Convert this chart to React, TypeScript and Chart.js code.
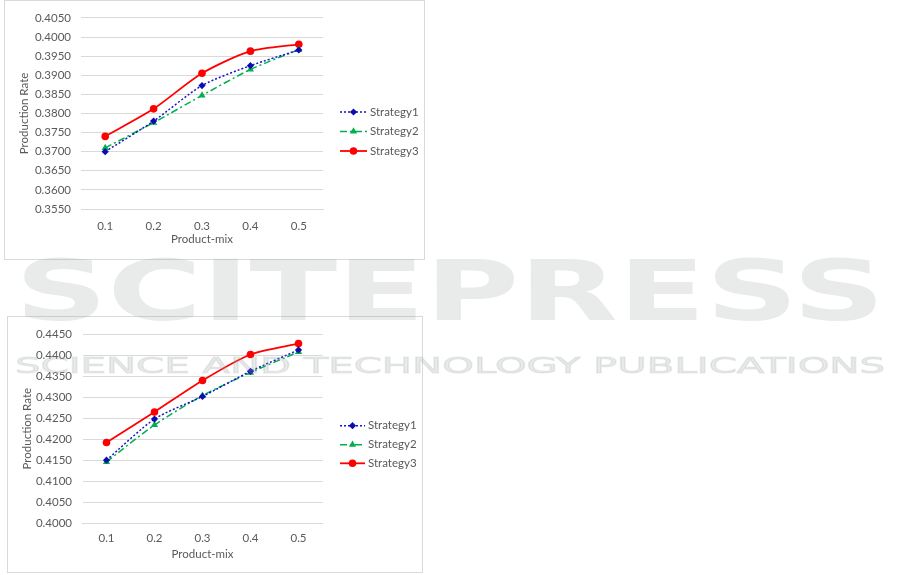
import React, { useEffect, useRef } from 'react';
import { Chart, registerables } from 'chart.js';

Chart.register(...registerables);

// ---------- data ----------
const categories = ['0.1', '0.2', '0.3', '0.4', '0.5'];
const seriesNames = ['Strategy1', 'Strategy2', 'Strategy3'];

const topStrategy1 = [0.3700, 0.3780, 0.3873, 0.3925, 0.3966];
const topStrategy2 = [0.3710, 0.3776, 0.3847, 0.3915, 0.3967];
const topStrategy3 = [0.3740, 0.3812, 0.3905, 0.3963, 0.3981];

const bottomStrategy1 = [0.4150, 0.4248, 0.4302, 0.4362, 0.4413];
const bottomStrategy2 = [0.4146, 0.4234, 0.4304, 0.4359, 0.4408];
const bottomStrategy3 = [0.4192, 0.4265, 0.4340, 0.4402, 0.4428];

const topAxis = { min: 0.355, max: 0.405, step: 0.005 };
const bottomAxis = { min: 0.4, max: 0.445, step: 0.005 };

const xTitle = 'Product-mix';
const yTitle = 'Production Rate';

// ---------- styles ----------
const TEXT = '#595959';
const GRID = '#d9d9d9';
const FONT = 'Lato, "Open Sans", sans-serif';

const seriesStyles = [
  { color: '#1414c8', marker: '#0c0cb0', dash: [2, 2], width: 1.5, pointStyle: 'rectRot', radius: 3.6 },
  { color: '#00b050', marker: '#00b050', dash: [7, 3, 2, 3], width: 1.5, pointStyle: 'triangle', radius: 4.2 },
  { color: '#ff0000', marker: '#ff0000', dash: [], width: 1.8, pointStyle: 'circle', radius: 3.8 },
];

function drawMarker(ctx: CanvasRenderingContext2D, style: string, x: number, y: number, r: number, color: string) {
  ctx.save();
  ctx.fillStyle = color;
  ctx.beginPath();
  if (style === 'circle') {
    ctx.arc(x, y, r, 0, Math.PI * 2);
  } else if (style === 'rectRot') {
    ctx.moveTo(x, y - r);
    ctx.lineTo(x + r, y);
    ctx.lineTo(x, y + r);
    ctx.lineTo(x - r, y);
  } else if (style === 'triangle') {
    let rad = 0;
    ctx.moveTo(x + Math.sin(rad) * r, y - Math.cos(rad) * r);
    rad += (2 * Math.PI) / 3;
    ctx.lineTo(x + Math.sin(rad) * r, y - Math.cos(rad) * r);
    rad += (2 * Math.PI) / 3;
    ctx.lineTo(x + Math.sin(rad) * r, y - Math.cos(rad) * r);
  }
  ctx.closePath();
  ctx.fill();
  ctx.restore();
}

const sideLegend = {
  id: 'sideLegend',
  afterDraw(chart: any, _args: any, opts: any) {
    const ctx = chart.ctx as CanvasRenderingContext2D;
    chart.data.datasets.forEach((ds: any, i: number) => {
      const y = opts.rows[i];
      ctx.save();
      ctx.strokeStyle = ds.borderColor;
      ctx.lineWidth = ds.borderWidth;
      ctx.setLineDash(ds.borderDash || []);
      ctx.beginPath();
      ctx.moveTo(opts.x0, y);
      ctx.lineTo(opts.x1, y);
      ctx.stroke();
      ctx.setLineDash([]);
      drawMarker(ctx, ds.pointStyle, (opts.x0 + opts.x1) / 2, y, ds.pointRadius, ds.pointBackgroundColor);
      ctx.fillStyle = TEXT;
      ctx.font = `11.5px ${FONT}`;
      ctx.textBaseline = 'middle';
      ctx.textAlign = 'left';
      ctx.fillText(ds.label, opts.xt, y);
      ctx.restore();
    });
  },
};

type Cfg = {
  w: number;
  h: number;
  series: number[][];
  axis: { min: number; max: number; step: number };
  pad: { left: number; top: number; right: number };
  yWidth: number;
  yTickPad: number;
  yTitlePad: number;
  xHeight: number;
  xTickPad: number;
  xTitlePad: number;
  legend: { x0: number; x1: number; xt: number; rows: number[] };
};

function buildConfig(c: Cfg): any {
  return {
    type: 'line',
    data: {
      labels: categories,
      datasets: c.series.map((vals, i) => {
        const s = seriesStyles[i];
        return {
          label: seriesNames[i],
          data: vals,
          borderColor: s.color,
          borderWidth: s.width,
          borderDash: s.dash,
          pointStyle: s.pointStyle,
          pointRadius: s.radius,
          pointBackgroundColor: s.marker,
          pointBorderColor: s.marker,
          pointBorderWidth: 0,
          tension: 0.25,
          fill: false,
        };
      }),
    },
    options: {
      responsive: false,
      animation: false,
      devicePixelRatio: 1,
      layout: { padding: { left: c.pad.left, top: c.pad.top, right: c.pad.right, bottom: 0 } },
      plugins: {
        legend: { display: false },
        tooltip: { enabled: false },
        sideLegend: c.legend,
      },
      scales: {
        x: {
          offset: true,
          grid: { display: false, drawTicks: false },
          border: { display: true, color: GRID, width: 1 },
          ticks: { padding: c.xTickPad, color: TEXT, font: { family: FONT, size: 11.5 } },
          title: {
            display: true,
            text: xTitle,
            color: TEXT,
            font: { family: FONT, size: 11.5 },
            padding: { top: 0, bottom: c.xTitlePad },
          },
          afterFit: (s: any) => {
            s.height = c.xHeight;
          },
        },
        y: {
          min: c.axis.min,
          max: c.axis.max,
          grid: { color: GRID, lineWidth: 1, drawTicks: false },
          border: { display: false },
          ticks: {
            stepSize: c.axis.step,
            padding: c.yTickPad,
            color: TEXT,
            font: { family: FONT, size: 11.5 },
            callback: (v: any) => Number(v).toFixed(4),
          },
          title: {
            display: true,
            text: yTitle,
            color: TEXT,
            font: { family: FONT, size: 11.5 },
            padding: { top: c.yTitlePad, bottom: 0 },
          },
          afterFit: (s: any) => {
            s.width = c.yWidth;
          },
        },
      },
    },
    plugins: [sideLegend],
  };
}

function LineChart({ cfg }: { cfg: Cfg }) {
  const ref = useRef<HTMLCanvasElement | null>(null);
  useEffect(() => {
    if (!ref.current) return;
    const chart = new Chart(ref.current, buildConfig(cfg));
    return () => chart.destroy();
  }, []);
  return <canvas ref={ref} width={cfg.w} height={cfg.h} style={{ display: 'block', width: cfg.w, height: cfg.h }} />;
}

const topCfg: Cfg = {
  w: 419,
  h: 258,
  series: [topStrategy1, topStrategy2, topStrategy3],
  axis: topAxis,
  pad: { left: 6, top: 12.5, right: 101 },
  yWidth: 70,
  yTickPad: 10,
  yTitlePad: 6,
  xHeight: 50,
  xTickPad: 10.4,
  xTitlePad: 12.4,
  legend: { x0: 335, x1: 362, xt: 365, rows: [111, 130.5, 150] },
};

const bottomCfg: Cfg = {
  w: 414,
  h: 255,
  series: [bottomStrategy1, bottomStrategy2, bottomStrategy3],
  axis: bottomAxis,
  pad: { left: 6, top: 12, right: 99.5 },
  yWidth: 68.5,
  yTickPad: 10.5,
  yTitlePad: 6,
  xHeight: 49,
  xTickPad: 8.7,
  xTitlePad: 10.4,
  legend: { x0: 332, x1: 357, xt: 360, rows: [108.7, 127.7, 146.3] },
};

export default function App() {
  return (
    <div
      style={{
        position: 'absolute',
        left: 0,
        top: 0,
        width: 901,
        height: 575,
        background: '#ffffff',
        overflow: 'hidden',
      }}
    >
      <div style={{ position: 'absolute', left: 4, top: 0, border: `1px solid ${GRID}`, background: '#fff' }}>
        <LineChart cfg={topCfg} />
      </div>
      <div style={{ position: 'absolute', left: 7, top: 316, border: `1px solid ${GRID}`, background: '#fff' }}>
        <LineChart cfg={bottomCfg} />
      </div>
      <svg
        width={901}
        height={575}
        style={{ position: 'absolute', left: 0, top: 0, pointerEvents: 'none' }}
      >
        <text
          x={15}
          y={320}
          fontFamily="DejaVu Sans"
          fontWeight="bold"
          fontSize={84}
          textLength={870}
          lengthAdjust="spacingAndGlyphs"
          fill="#9aa4a4"
          fillOpacity={0.22}
        >
          SCITEPRESS
        </text>
        <text
          x={15}
          y={373}
          fontFamily="DejaVu Sans"
          fontSize={22}
          textLength={870}
          lengthAdjust="spacingAndGlyphs"
          fill="#9aa4a4"
          fillOpacity={0.22}
          stroke="#9aa4a4"
          strokeOpacity={0.22}
          strokeWidth={1}
        >
          SCIENCE AND TECHNOLOGY PUBLICATIONS
        </text>
      </svg>
    </div>
  );
}
